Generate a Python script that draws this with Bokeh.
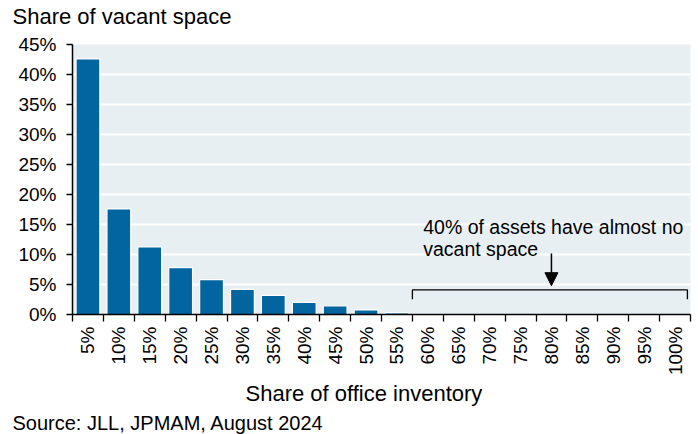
import math
from bokeh.plotting import figure
from bokeh.models import Range1d, FixedTicker, Title, Label, Arrow, NormalHead, ColumnDataSource
from bokeh.embed import file_html
from bokeh.resources import INLINE

# ---------------- data ----------------
categories = ["5%", "10%", "15%", "20%", "25%", "30%", "35%", "40%", "45%", "50%",
              "55%", "60%", "65%", "70%", "75%", "80%", "85%", "90%", "95%", "100%"]
vacant_share = [42.6, 17.6, 11.25, 7.8, 5.8, 4.2, 3.2, 2.0, 1.45, 0.77,
                0.27, 0.1, 0.0, 0.0, 0.0, 0.0, 0.0, 0.0, 0.0, 0.0]
y_ticks = [0, 5, 10, 15, 20, 25, 30, 35, 40, 45]
y_tick_labels = ["0%", "5%", "10%", "15%", "20%", "25%", "30%", "35%", "40%", "45%"]
title_text = "Share of vacant space"
x_label_text = "Share of office inventory"
source_text = "Source: JLL, JPMAM, August 2024"
annotation_lines = ["40% of assets have almost no", "vacant space"]
bracket_start_category = "60%"

FONT = "Liberation Sans"
BLUE = "#03659F"
BG = "#E7EFF3"

n = len(categories)
centers = [i + 0.5 for i in range(n)]
boundaries = list(range(n + 1))

src = ColumnDataSource(data=dict(x=centers, v=vacant_share, cat=categories))

p = figure(width=698, height=434, x_range=Range1d(0, n), y_range=Range1d(0, 45),
           output_backend="svg", toolbar_location=None,
           min_border_left=72, min_border_right=8, min_border_top=44, min_border_bottom=120)
p.background_fill_color = BG
p.border_fill_color = "white"
p.outline_line_color = None

p.vbar(x="x", top="v", width=0.77, source=src, fill_color=BLUE,
       line_color="white", line_width=1.2)

# x axis
xa = p.xaxis[0]
xa.ticker = FixedTicker(ticks=centers, minor_ticks=boundaries)
xa.major_label_overrides = {c: lab for c, lab in zip(centers, categories)}
xa.major_tick_in = 0
xa.major_tick_out = 0
xa.minor_tick_in = 0
xa.minor_tick_out = 7
xa.minor_tick_line_color = "black"
xa.minor_tick_line_width = 1.3
xa.axis_line_color = "black"
xa.axis_line_width = 1.5
xa.major_label_orientation = math.pi / 2
xa.major_label_standoff = 5
xa.major_label_text_font = FONT
xa.major_label_text_font_size = "19px"
xa.major_label_text_color = "black"

# y axis
ya = p.yaxis[0]
ya.ticker = FixedTicker(ticks=y_ticks)
ya.major_label_overrides = {t: lab for t, lab in zip(y_ticks, y_tick_labels)}
ya.major_tick_in = 0
ya.major_tick_out = 6
ya.major_tick_line_width = 1.3
ya.minor_tick_line_color = None
ya.axis_line_color = "black"
ya.axis_line_width = 1.5
ya.major_label_standoff = 10
ya.major_label_text_font = FONT
ya.major_label_text_font_size = "19px"
ya.major_label_text_color = "black"

p.xgrid.visible = False
p.ygrid.ticker = FixedTicker(ticks=y_ticks)
p.ygrid.grid_line_color = "white"
p.ygrid.grid_line_width = 2

# bracket and arrow
b0 = categories.index(bracket_start_category)
b1 = n - 0.1
p.line(x=[b0, b0, b1, b1], y=[2.55, 4.1, 4.1, 2.55], line_color="black", line_width=1.3)
mid = (b0 + n) / 2
p.add_layout(Arrow(x_start=mid, y_start=10.15, x_end=mid, y_end=4.8,
                   line_color="black", line_width=1.5,
                   end=NormalHead(size=13, fill_color="black", line_color="black")))

p.add_layout(Label(x=11.35, y=14.54, text=annotation_lines[0], text_font=FONT,
                   text_font_size="19.5px", text_color="black", text_baseline="alphabetic"))
p.add_layout(Label(x=11.35, y=10.97, text=annotation_lines[1], text_font=FONT,
                   text_font_size="19.5px", text_color="black", text_baseline="alphabetic"))

# titles: a blank spacer next to the frame, then the real title further up
p.add_layout(Title(text=" ", text_font=FONT, text_font_size="8px", standoff=0), "above")
p.add_layout(Title(text=title_text, align="left", offset=-60, vertical_align="top", standoff=6,
                   text_font=FONT, text_font_size="22px", text_font_style="normal",
                   text_color="black"), "above")
p.add_layout(Title(text=x_label_text, align="left", offset=173, vertical_align="top", standoff=4,
                   text_font=FONT, text_font_size="22px", text_font_style="normal",
                   text_color="black"), "below")
p.add_layout(Title(text=source_text, align="left", offset=-60, standoff=0, text_font=FONT,
                   text_font_size="20px", text_font_style="normal", text_color="black"), "below")

open("out.html", "w").write(file_html(p, INLINE))
